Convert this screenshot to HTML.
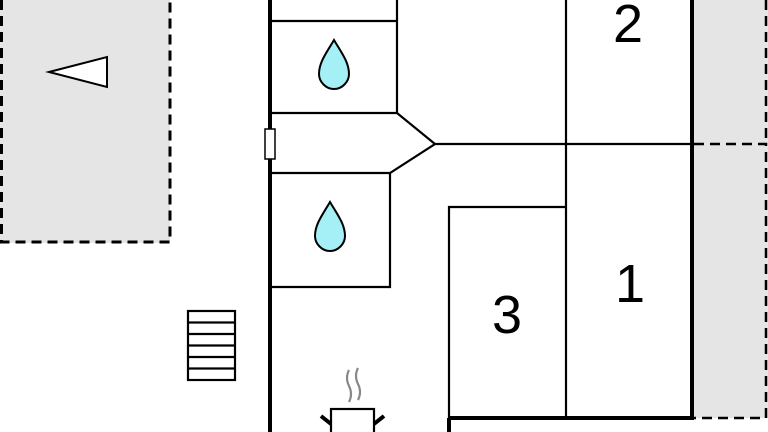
<!DOCTYPE html>
<html><head><style>html,body{margin:0;padding:0;background:#fff}svg{display:block}</style></head>
<body>
<svg width="768" height="432" viewBox="0 0 768 432" xmlns="http://www.w3.org/2000/svg">
<rect x="0" y="0" width="170" height="243" fill="#e5e5e5"/>
<path d="M1.5,0 V242 H170 V0" fill="none" stroke="#000" stroke-width="3" stroke-dasharray="10,6"/>
<rect x="694" y="0" width="74" height="418" fill="#e5e5e5"/>
<path d="M694,144 H766 V418 H694 M766,0 V144" fill="none" stroke="#000" stroke-width="2.5" stroke-dasharray="10,6"/>
<polygon points="49,72 107,57 107,87" fill="#fff" stroke="#000" stroke-width="2"/>
<g fill="none" stroke="#000" stroke-width="2.2">
<path d="M272,21 H397 M397,0 V113 H272 M397,113 L435,144 L390,173 H272 M390,173 V287 H272"/>
<path d="M435,144 H692"/>
<path d="M566,0 V418"/>
<path d="M449,432 V207 H566"/>
<rect x="188" y="311" width="47" height="69"/>
<path d="M188,322.5 H235 M188,334 H235 M188,345.5 H235 M188,357 H235 M188,368.5 H235"/>
<rect x="331" y="409" width="43" height="30"/>
</g>
<g stroke="#000" stroke-width="4" fill="none">
<path d="M270,0 V432"/>
<path d="M692,0 V420"/>
<path d="M449,418 H694 M449,418 V432"/>
<path d="M321,416 L331,424 M384,416 L374,424"/>
</g>
<path d="M349,370 q-4,8 0,16 q4,8 0,16 M358,368 q-4,8 0,16 q4,8 0,16" stroke="#888" stroke-width="2.2" fill="none"/>
<rect x="265" y="129" width="10" height="30" fill="#fff" stroke="#000" stroke-width="1.5"/>
<path d="M334,40 C327,52 319,62 319,74 C319,82 326,89 334,89 C342,89 349,82 349,74 C349,62 341,52 334,40 Z" fill="#a5f0f6" stroke="#000" stroke-width="2"/>
<path d="M330,202 C323,214 315,224 315,236 C315,244 322,251 330,251 C338,251 345,244 345,236 C345,224 337,214 330,202 Z" fill="#a5f0f6" stroke="#000" stroke-width="2"/>
<g font-family="Liberation Sans, sans-serif" font-size="54" text-anchor="middle" fill="#000">
<text x="628" y="42">2</text>
<text x="630" y="302">1</text>
<text x="507" y="333">3</text>
</g>
</svg>
</body></html>
